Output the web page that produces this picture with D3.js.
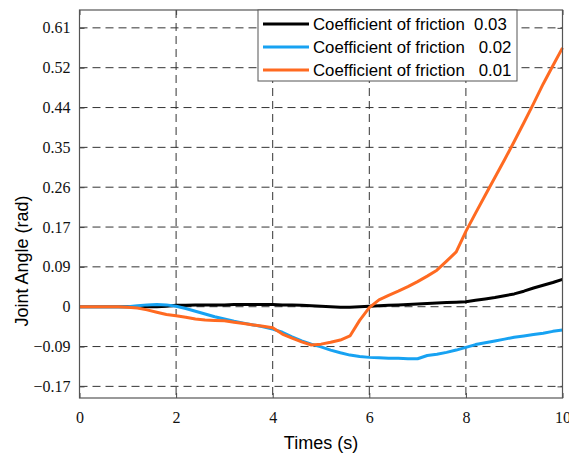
<!DOCTYPE html>
<html>
<head>
<meta charset="utf-8">
<script src="https://cdn.jsdelivr.net/npm/d3@7"></script>
<style>
  body { margin: 0; background: #fff; }
  svg { display: block; }
  .tick text { font-family: "Liberation Serif", "Times New Roman", Times, serif; font-size: 16px; fill: #111; }
</style>
</head>
<body>
<svg width="569" height="454"></svg>
<script>
// time samples (s)
var times = [0, 0.2, 0.4, 0.6, 0.8, 1.0, 1.2, 1.4, 1.6, 1.8,
             2.0, 2.2, 2.4, 2.6, 2.8, 3.0, 3.2, 3.4, 3.6, 3.8,
             4.0, 4.2, 4.4, 4.6, 4.8, 5.0, 5.2, 5.4, 5.6, 5.8,
             6.0, 6.2, 6.4, 6.6, 6.8, 7.0, 7.2, 7.4, 7.6, 7.8,
             8.0, 8.2, 8.4, 8.6, 8.8, 9.0, 9.2, 9.4, 9.6, 9.8, 10.0];

// joint angle (rad), friction 0.03
var friction003 = [0, 0, 0, 0, 0, 0, 0, 0, 0, 0.001,
                   0.003, 0.003, 0.004, 0.004, 0.004, 0.004, 0.005, 0.005, 0.005, 0.005,
                   0.005, 0.004, 0.004, 0.003, 0.002, 0.001, 0.000, -0.001, -0.001, 0.000,
                   0.001, 0.002, 0.003, 0.004, 0.005, 0.006, 0.007, 0.008, 0.009, 0.010,
                   0.011, 0.014, 0.017, 0.020, 0.024, 0.028, 0.034, 0.041, 0.047, 0.053, 0.060];

// friction 0.02
var friction002 = [0, 0, 0, 0, 0, 0, 0.002, 0.004, 0.005, 0.004,
                   0.001, -0.004, -0.010, -0.016, -0.022, -0.027, -0.032, -0.036, -0.040, -0.044,
                   -0.049, -0.056, -0.066, -0.075, -0.082, -0.088, -0.095, -0.101, -0.106, -0.109,
                   -0.111, -0.112, -0.113, -0.113, -0.114, -0.114, -0.107, -0.104, -0.100, -0.095,
                   -0.089, -0.083, -0.079, -0.075, -0.071, -0.067, -0.064, -0.061, -0.058, -0.054, -0.051];

// friction 0.01
var friction001 = [0, 0, 0, 0, 0, -0.001, -0.003, -0.007, -0.012, -0.017,
                   -0.020, -0.023, -0.027, -0.029, -0.030, -0.031, -0.034, -0.037, -0.040, -0.043,
                   -0.046, -0.060, -0.069, -0.077, -0.084, -0.082, -0.078, -0.073, -0.064, -0.030,
                   -0.002, 0.015, 0.025, 0.034, 0.044, 0.055, 0.067, 0.080, 0.100, 0.120,
                   0.165, 0.205, 0.244, 0.283, 0.322, 0.362, 0.403, 0.445, 0.488, 0.528, 0.567];

var seriesNames = ["Coefficient of friction  0.03",
                   "Coefficient of friction   0.02",
                   "Coefficient of friction   0.01"];
var seriesColors = ["#000000", "#17a2f2", "#ff6a21"];

var xTicks = [0, 2, 4, 6, 8, 10];
var yTicks = [-0.1745, -0.0873, 0, 0.0873, 0.1745, 0.2618, 0.3491, 0.4363, 0.5236, 0.6109];
var yTickLabels = ["\u22120.17", "\u22120.09", "0", "0.09", "0.17", "0.26", "0.35", "0.44", "0.52", "0.61"];

var svg = d3.select("svg");
var margin = {left: 79.5, right: 6.5, top: 10, bottom: 56};
var width = 569 - margin.left - margin.right,
    height = 454 - margin.top - margin.bottom;

var x = d3.scaleLinear().domain([0, 10]).range([0, width]);
var y = d3.scaleLinear().domain([-0.2, 0.65]).range([height, 0]);

var g = svg.append("g")
    .attr("transform", "translate(" + margin.left + "," + margin.top + ")");

// grid
g.append("g")
    .selectAll("line")
    .data(xTicks.slice(1, -1))
    .enter().append("line")
    .attr("x1", function(d) { return x(d); })
    .attr("x2", function(d) { return x(d); })
    .attr("y1", 0)
    .attr("y2", height)
    .style("stroke", "#333")
    .style("stroke-width", 1)
    .style("stroke-dasharray", "8,5");

g.append("g")
    .selectAll("line")
    .data(yTicks)
    .enter().append("line")
    .attr("x1", 0)
    .attr("x2", width)
    .attr("y1", function(d) { return y(d); })
    .attr("y2", function(d) { return y(d); })
    .style("stroke", "#333")
    .style("stroke-width", 1)
    .style("stroke-dasharray", "8,5");

// axes
var serif = "'Liberation Serif', 'Times New Roman', Times, serif";
g.append("g")
    .attr("transform", "translate(0," + height + ")")
    .call(d3.axisBottom(x).tickValues(xTicks).tickSizeInner(-5).tickSizeOuter(0).tickPadding(14))
    .attr("font-family", serif)
    .attr("font-size", 16);
g.append("g")
    .call(d3.axisLeft(y).tickValues(yTicks).tickSizeInner(-5).tickSizeOuter(0).tickPadding(9)
        .tickFormat(function(d, i) { return yTickLabels[i]; }))
    .attr("font-family", serif)
    .attr("font-size", 16);
g.append("g")
    .call(d3.axisTop(x).tickValues(xTicks).tickSizeInner(-5).tickSizeOuter(0).tickFormat(""));
g.append("g")
    .attr("transform", "translate(" + width + ",0)")
    .call(d3.axisRight(y).tickValues(yTicks).tickSizeInner(-5).tickSizeOuter(0).tickFormat(""));

g.selectAll(".domain").remove();
g.selectAll(".tick line").style("stroke", "#444");

// series
var allSeries = [friction003, friction002, friction001];
var line = d3.line()
    .x(function(d, i) { return x(times[i]); })
    .y(function(d) { return y(d); });

g.append("g")
    .selectAll("path")
    .data(allSeries)
    .enter().append("path")
    .attr("d", line)
    .style("fill", "none")
    .style("stroke", function(d, i) { return seriesColors[i]; })
    .style("stroke-width", 3)
    .style("stroke-linejoin", "round");

// frame
g.append("rect")
    .attr("width", width)
    .attr("height", height)
    .style("fill", "none")
    .style("stroke", "#555")
    .style("stroke-width", 1.2);

// axis titles
svg.append("text")
    .attr("x", margin.left + width / 2)
    .attr("y", 449)
    .style("text-anchor", "middle")
    .style("font-family", "'Liberation Sans', Arial, sans-serif")
    .style("font-size", "18px")
    .text("Times (s)");

svg.append("text")
    .attr("transform", "translate(28," + (margin.top + y(0.1)) + ") rotate(-90)")
    .style("text-anchor", "middle")
    .style("font-family", "'Liberation Sans', Arial, sans-serif")
    .style("font-size", "18px")
    .text("Joint Angle (rad)");

// legend
var legend = svg.append("g").attr("transform", "translate(258,10)");
legend.append("rect")
    .attr("width", 259)
    .attr("height", 71)
    .style("fill", "#fff")
    .style("stroke", "#555")
    .style("stroke-width", 1);

var item = legend.selectAll(".item")
    .data(seriesNames)
    .enter().append("g")
    .attr("transform", function(d, i) { return "translate(0," + (14 + i * 23) + ")"; });

item.append("line")
    .attr("x1", 5)
    .attr("x2", 51)
    .style("stroke", function(d, i) { return seriesColors[i]; })
    .style("stroke-width", 3);

item.append("text")
    .attr("x", 55)
    .attr("dy", "0.35em")
    .style("white-space", "pre")
    .style("font-family", "'Liberation Sans', Arial, sans-serif")
    .style("font-size", "16.8px")
    .text(function(d) { return d; });
</script>
</body>
</html>
